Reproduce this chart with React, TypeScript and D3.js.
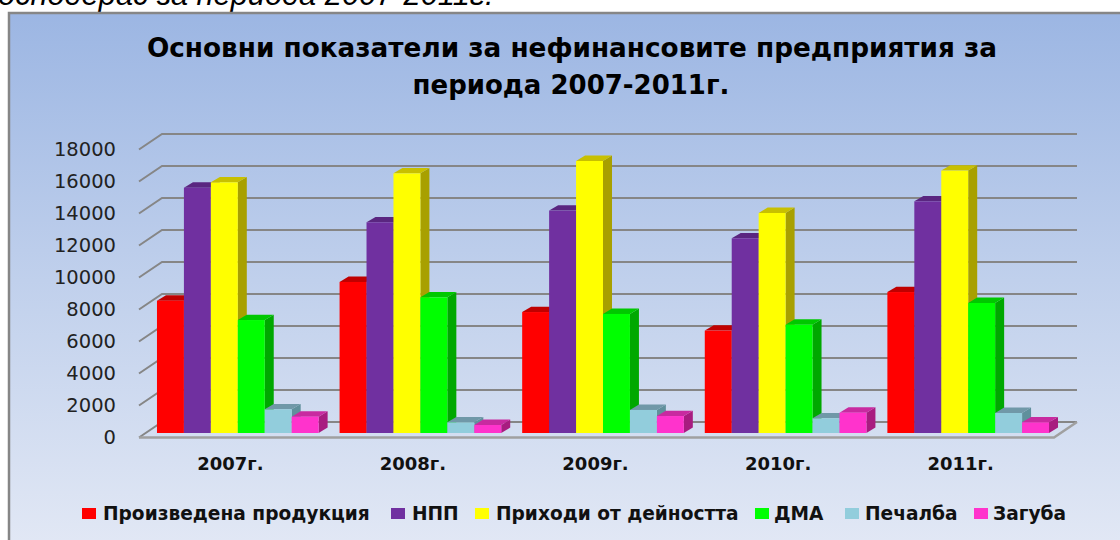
import React from 'react';
import * as d3 from 'd3';

const years = ['2007г.', '2008г.', '2009г.', '2010г.', '2011г.'];
const seriesNames = ['Произведена продукция', 'НПП', 'Приходи от дейността', 'ДМА', 'Печалба', 'Загуба'];
const produkcia = [8270, 9440, 7560, 6400, 8810];
const npp = [15330, 13170, 13900, 12170, 14480];
const prihodi = [15670, 16230, 17000, 13750, 16400];
const dma = [7060, 8480, 7440, 6770, 8125];
const pechalba = [1480, 670, 1440, 920, 1250];
const zaguba = [1020, 500, 1060, 1270, 670];
const yTicks = [0, 2000, 4000, 6000, 8000, 10000, 12000, 14000, 16000, 18000];
const colors = ['#ff0000', '#7030a0', '#ffff00', '#00ff00', '#92cddc', '#ff33cc'];
const topColors = ['#c00000', '#5a2680', '#c8c000', '#00c800', '#7098a8', '#c82aa0'];
const sideColors = ['#a80000', '#4a2070', '#a8a000', '#00a800', '#60909c', '#a81c80'];
const allSeries = [produkcia, npp, prihodi, dma, pechalba, zaguba];

const legendSwatchX = [82, 391, 475, 755, 845, 974];
const legendTextX = [103, 412, 496, 774, 865, 993];

const font = '"DejaVu Sans", Verdana, sans-serif';

const App: React.FC = () => {
  const depthX = 9;
  const depthY = 5.4;
  const wallDX = 23;
  const wallDY = 15.5;

  // front plane of the bars
  const y = d3.scaleLinear().domain([0, 18000]).range([433, 145]);
  // back wall
  const yWall = d3.scaleLinear().domain([0, 18000]).range([422, 134]);
  const xGroup = d3.scaleBand<string>().domain(years).range([146.5, 1059.5]).paddingInner(21 / 183).paddingOuter(21 / 366);
  const xBar = d3.scaleBand<string>().domain(seriesNames).range([0, xGroup.bandwidth()]);
  // labels sit under the front edge of the floor
  const xLabel = d3.scaleBand<string>().domain(years).range([139, 1052]);

  return (
    <svg width={1120} height={540} style={{ position: 'absolute', left: 0, top: 0, display: 'block' }}>
      <defs>
        <linearGradient id="bg" x1="0" y1="0" x2="0" y2="1">
          <stop offset="0" stopColor="#9cb6e3" />
          <stop offset="0.5" stopColor="#c0d0ec" />
          <stop offset="1" stopColor="#e2e8f5" />
        </linearGradient>
      </defs>
      <rect x={0} y={0} width={1120} height={540} fill="#fff" />
      <text x={-2} y={5} fontFamily='"Liberation Sans", Arial, sans-serif' fontStyle="italic" fontSize={30.8}>
        оснодерас за периода 2007-2011г.
      </text>
      <rect x={9} y={13} width={1120} height={535} fill="url(#bg)" stroke="#868686" strokeWidth={2.5} />
      <text x={572} y={57} textAnchor="middle" fontFamily={font} fontWeight="bold" fontSize={26.3}>
        Основни показатели за нефинансовите предприятия за
      </text>
      <text x={571} y={94} textAnchor="middle" fontFamily={font} fontWeight="bold" fontSize={26}>
        периода 2007-2011г.
      </text>

      {yTicks.map((t) => (
        <g key={t}>
          <path
            d={`M${139},${yWall(t) + wallDY}L${139 + wallDX},${yWall(t)}H1077`}
            fill="none"
            stroke="#868686"
            strokeWidth={2}
          />
          <text x={116} y={yWall(t) + wallDY + 6.5} textAnchor="end" fontFamily={font} fontSize={19.5} fill="#222">
            {t}
          </text>
        </g>
      ))}
      <path d={`M139,437.5H1054L1077,422`} fill="none" stroke="#a0a0a0" strokeWidth={2.5} />

      {years.map((year, i) => (
        <g key={year}>
          {seriesNames.map((name, s) => {
            const v = allSeries[s][i];
            const x0 = (xGroup(year) as number) + (xBar(name) as number);
            const w = xBar.bandwidth();
            const top = y(v);
            const base = y(0);
            return (
              <g key={name}>
                <path
                  d={`M${x0 + w},${top}l${depthX},${-depthY}V${base - depthY}l${-depthX},${depthY}Z`}
                  fill={sideColors[s]}
                />
                <path
                  d={`M${x0},${top}l${depthX},${-depthY}h${w}l${-depthX},${depthY}Z`}
                  fill={topColors[s]}
                />
                <rect x={x0} y={top} width={w} height={base - top} fill={colors[s]} />
              </g>
            );
          })}
          <text
            x={(xLabel(year) as number) + xLabel.bandwidth() / 2}
            y={470}
            textAnchor="middle"
            fontFamily={font}
            fontWeight="bold"
            fontSize={18}
            fill="#111"
          >
            {year}
          </text>
        </g>
      ))}

      {seriesNames.map((name, s) => (
        <g key={name}>
          <rect x={legendSwatchX[s]} y={508} width={14} height={11} fill={colors[s]} />
          <text x={legendTextX[s]} y={520} fontFamily={font} fontWeight="bold" fontSize={18.6} fill="#111">
            {name}
          </text>
        </g>
      ))}
    </svg>
  );
};

export default App;
